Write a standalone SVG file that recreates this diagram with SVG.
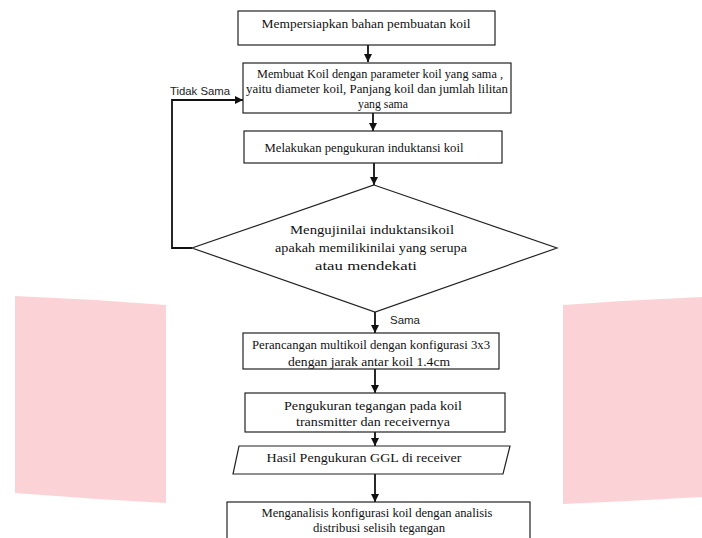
<svg xmlns="http://www.w3.org/2000/svg" width="702" height="538" viewBox="0 0 702 538">
<style>
.bg{fill:#FBD3D6;stroke:none}
.box{fill:#fff;stroke:#222;stroke-width:1.2}
.t{font-family:"Liberation Serif","Times New Roman",serif;font-size:13px;fill:#111;text-anchor:middle}
.lbl{font-family:"Liberation Sans",Arial,sans-serif;font-size:11px;fill:#222}
.con{fill:none;stroke:#111;stroke-width:1.8}
</style>
<defs>
<marker id="ah" viewBox="0 0 8 8" refX="8" refY="4" markerWidth="8" markerHeight="8" markerUnits="userSpaceOnUse" orient="auto">
<path d="M0,0 L8,4 L0,8 z" fill="#111"/>
</marker>
</defs>
<rect width="702" height="538" fill="#fff"/>
<path class="bg" d="M15,296 Q90,299 166,305 L166,503 Q90,499 15,493 Z"/>
<path class="bg" d="M563,305 Q632,300 702,297 L702,497 Q632,501 563,504 Z"/>

<g id="connectors">
<path class="con" d="M368,45 V62" marker-end="url(#ah)"/>
<path class="con" d="M373,113 V131" marker-end="url(#ah)"/>
<path class="con" d="M374,163 V185" marker-end="url(#ah)"/>
<path class="con" d="M192,248 H172 V100 H243" marker-end="url(#ah)"/>
<path class="con" d="M375,312 V333" marker-end="url(#ah)"/>
<path class="con" d="M375,369 V393" marker-end="url(#ah)"/>
<path class="con" d="M375,432 V446" marker-end="url(#ah)"/>
<path class="con" d="M375,474 V502" marker-end="url(#ah)"/>
<text class="lbl" x="170" y="95" textLength="60" lengthAdjust="spacingAndGlyphs">Tidak Sama</text>
<text class="lbl" x="390" y="324" textLength="30" lengthAdjust="spacingAndGlyphs">Sama</text>
</g>

<g id="n1">
<rect class="box" x="238" y="11" width="257" height="34"/>
<text class="t" x="366" y="28" textLength="209" lengthAdjust="spacingAndGlyphs">Mempersiapkan bahan pembuatan koil</text>
</g>
<g id="n2">
<rect class="box" x="243" y="63" width="268" height="50"/>
<text class="t" x="380" y="78" textLength="246" lengthAdjust="spacingAndGlyphs">Membuat Koil dengan parameter koil yang sama ,</text>
<text class="t" x="377" y="93" textLength="262" lengthAdjust="spacingAndGlyphs">yaitu diameter  koil, Panjang koil dan jumlah lilitan</text>
<text class="t" x="383" y="108" textLength="50" lengthAdjust="spacingAndGlyphs">yang sama</text>
</g>
<g id="n3">
<rect class="box" x="244" y="131" width="258" height="32"/>
<text class="t" x="364" y="152" textLength="199" lengthAdjust="spacingAndGlyphs">Melakukan pengukuran induktansi koil</text>
</g>
<g id="n4">
<polygon class="box" points="374,185 557,248 375,312 192,248"/>
<text class="t" x="372" y="234" textLength="164" lengthAdjust="spacingAndGlyphs">Mengujinilai induktansikoil</text>
<text class="t" x="371" y="252" textLength="192" lengthAdjust="spacingAndGlyphs">apakah memilikinilai yang serupa</text>
<text class="t" x="366" y="270" textLength="102" lengthAdjust="spacingAndGlyphs">atau mendekati</text>
</g>
<g id="n5">
<rect class="box" x="243" y="333" width="256" height="36"/>
<text class="t" x="371" y="349" textLength="238" lengthAdjust="spacingAndGlyphs">Perancangan multikoil dengan konfigurasi 3x3</text>
<text class="t" x="369" y="366" textLength="162" lengthAdjust="spacingAndGlyphs">dengan jarak antar koil 1.4cm</text>
</g>
<g id="n6">
<rect class="box" x="245" y="393" width="260" height="39"/>
<text class="t" x="373" y="410" textLength="178" lengthAdjust="spacingAndGlyphs">Pengukuran tegangan pada koil</text>
<text class="t" x="373" y="426" textLength="154" lengthAdjust="spacingAndGlyphs">transmitter dan receivernya</text>
</g>
<g id="n7">
<polygon class="box" points="239,446 510,446 503,474 233,474"/>
<text class="t" x="364" y="462" textLength="195" lengthAdjust="spacingAndGlyphs">Hasil Pengukuran GGL di receiver</text>
</g>
<g id="n8">
<rect class="box" x="227" y="502" width="303" height="45"/>
<text class="t" x="377" y="517" textLength="231" lengthAdjust="spacingAndGlyphs">Menganalisis konfigurasi koil dengan analisis</text>
<text class="t" x="379" y="532" textLength="132" lengthAdjust="spacingAndGlyphs">distribusi selisih tegangan</text>
</g>
</svg>
